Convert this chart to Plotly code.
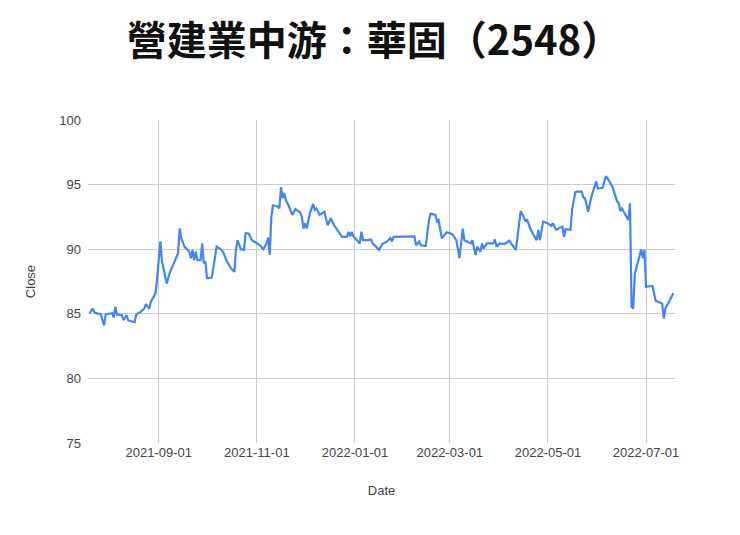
import plotly.graph_objects as go

dates = [
    "2021-07-20", "2021-07-22", "2021-07-23", "2021-07-27", "2021-07-29", "2021-07-30",
    "2021-08-03", "2021-08-04", "2021-08-05", "2021-08-06", "2021-08-09", "2021-08-10",
    "2021-08-12", "2021-08-13", "2021-08-17", "2021-08-18", "2021-08-20", "2021-08-23",
    "2021-08-24", "2021-08-26", "2021-08-27", "2021-08-30", "2021-08-31", "2021-09-02",
    "2021-09-03", "2021-09-06", "2021-09-08", "2021-09-09", "2021-09-13", "2021-09-14",
    "2021-09-15", "2021-09-17", "2021-09-20", "2021-09-21", "2021-09-22", "2021-09-23",
    "2021-09-24", "2021-09-25", "2021-09-27", "2021-09-28", "2021-09-29", "2021-09-30",
    "2021-10-01", "2021-10-04", "2021-10-07", "2021-10-09", "2021-10-11", "2021-10-13",
    "2021-10-16", "2021-10-18", "2021-10-19", "2021-10-20", "2021-10-22", "2021-10-24",
    "2021-10-25", "2021-10-27", "2021-10-29", "2021-11-01", "2021-11-03", "2021-11-05",
    "2021-11-07", "2021-11-08", "2021-11-09", "2021-11-10", "2021-11-11", "2021-11-14",
    "2021-11-15", "2021-11-16", "2021-11-17", "2021-11-18", "2021-11-19", "2021-11-21",
    "2021-11-23", "2021-11-25", "2021-11-28", "2021-11-29", "2021-11-30", "2021-12-01",
    "2021-12-02", "2021-12-04", "2021-12-06", "2021-12-07", "2021-12-08", "2021-12-10",
    "2021-12-12", "2021-12-13", "2021-12-15", "2021-12-17", "2021-12-19", "2021-12-22",
    "2021-12-24", "2021-12-27", "2021-12-28", "2021-12-29", "2021-12-30", "2021-12-31",
    "2022-01-02", "2022-01-04", "2022-01-05", "2022-01-06", "2022-01-09", "2022-01-11",
    "2022-01-12", "2022-01-14", "2022-01-16", "2022-01-18", "2022-01-21", "2022-01-23",
    "2022-01-24", "2022-01-25", "2022-01-28", "2022-02-01", "2022-02-07", "2022-02-08",
    "2022-02-10", "2022-02-11", "2022-02-14", "2022-02-16", "2022-02-17", "2022-02-20",
    "2022-02-21", "2022-02-22", "2022-02-24", "2022-02-27", "2022-03-01", "2022-03-03",
    "2022-03-05", "2022-03-07", "2022-03-08", "2022-03-09", "2022-03-10", "2022-03-12",
    "2022-03-14", "2022-03-15", "2022-03-17", "2022-03-18", "2022-03-20", "2022-03-21",
    "2022-03-22", "2022-03-24", "2022-03-28", "2022-03-29", "2022-03-30", "2022-04-01",
    "2022-04-04", "2022-04-07", "2022-04-09", "2022-04-11", "2022-04-12", "2022-04-14",
    "2022-04-16", "2022-04-17", "2022-04-18", "2022-04-20", "2022-04-22", "2022-04-24",
    "2022-04-25", "2022-04-26", "2022-04-28", "2022-05-01", "2022-05-03", "2022-05-04",
    "2022-05-06", "2022-05-08", "2022-05-10", "2022-05-11", "2022-05-12", "2022-05-15",
    "2022-05-16", "2022-05-18", "2022-05-19", "2022-05-22", "2022-05-23", "2022-05-24",
    "2022-05-26", "2022-05-28", "2022-05-29", "2022-05-31", "2022-06-01", "2022-06-04",
    "2022-06-06", "2022-06-07", "2022-06-10", "2022-06-13", "2022-06-14", "2022-06-15",
    "2022-06-16", "2022-06-19", "2022-06-20", "2022-06-21", "2022-06-22", "2022-06-23",
    "2022-06-24", "2022-06-27", "2022-06-28", "2022-06-29", "2022-06-30", "2022-07-01",
    "2022-07-05", "2022-07-07", "2022-07-10", "2022-07-11", "2022-07-12", "2022-07-13",
    "2022-07-16", "2022-07-18",
]

close = [
    85.05, 85.4, 85.1, 84.95, 84.1, 84.95,
    85.05, 84.7, 85.55, 84.95, 84.9, 84.5,
    84.9, 84.5, 84.35, 84.95, 85.1, 85.4,
    85.75, 85.4, 85.9, 86.6, 87.75, 90.6,
    89.05, 87.35, 88.25, 88.5, 89.7, 91.6,
    90.85, 90.2, 89.8, 89.3, 89.95, 89.15,
    89.8, 89.15, 89.15, 90.45, 88.9, 89.05,
    87.75, 87.8, 90.2, 90.05, 89.8, 89.15,
    88.5, 88.25, 89.95, 90.7, 90.0, 89.95,
    91.25, 91.2, 90.7, 90.45, 90.3, 90.0,
    90.45, 90.9, 89.55, 92.5, 93.4, 93.3,
    93.15, 94.8, 93.95, 94.35, 93.8, 93.3,
    92.65, 93.1, 92.85, 92.5, 91.6, 92.0,
    91.6, 92.8, 93.5, 93.05, 93.15, 92.65,
    92.8, 92.9, 91.85, 92.4, 91.85, 91.25,
    90.95, 90.95, 91.35, 91.0, 91.35, 91.0,
    90.75, 90.45, 91.35, 90.7, 90.7, 90.75,
    90.45, 90.2, 89.95, 90.4, 90.6, 90.85,
    90.6, 90.95, 90.95, 91.0, 91.0, 90.3,
    90.6, 90.3, 90.25, 92.25, 92.75, 92.65,
    92.15, 92.25, 90.85, 91.3, 91.25, 91.1,
    90.7, 89.3, 90.7, 91.6, 90.7, 90.6,
    90.45, 90.7, 89.55, 90.2, 89.8, 90.45,
    90.05, 90.45, 90.45, 90.75, 90.2, 90.45,
    90.4, 90.65, 90.3, 89.95, 90.85, 92.95,
    92.5, 92.15, 92.3, 91.6, 91.1, 90.7,
    91.5, 90.7, 92.15, 92.0, 91.8, 92.0,
    91.5, 91.6, 91.75, 90.95, 91.55, 91.5,
    93.05, 94.4, 94.45, 94.45, 94.0, 93.95,
    92.9, 94.05, 94.4, 95.25, 94.7, 94.75,
    95.65, 95.5, 94.85, 93.7, 93.55, 92.95,
    93.15, 92.5, 92.25, 93.55, 85.55, 85.4,
    88.1, 89.5, 90.0, 89.3, 89.95, 87.1,
    87.15, 86.0, 85.85, 85.8, 84.65, 85.4,
    86.1, 86.6,
]

title_text = "營建業中游：華固（2548）"
x_title = "Date"
y_title = "Close"
x_range = ["2021-07-19", "2022-07-19"]
y_range = [75, 100]

W, H = 732, 527

fig = go.Figure()
fig.add_trace(go.Scatter(
    x=dates, y=close, mode="lines",
    line=dict(color="#4285f4", width=2.2),
    hoverinfo="x+y", showlegend=False,
))

fig.update_layout(
    width=W, height=H,
    margin=dict(l=80, r=65, t=112, b=92),
    paper_bgcolor="white", plot_bgcolor="white",
    font=dict(family="Liberation Sans, Arial, sans-serif", size=13, color="#444444"),
    title=dict(
        text="<b>" + title_text + "</b>",
        x=0.5, xanchor="center", y=1 - 33 / H, yanchor="middle",
        font=dict(family="Noto Sans CJK TC", size=40, color="#111111"),
    ),
)
fig.update_xaxes(
    type="date", range=x_range,
    tick0="2021-09-01", dtick="M2", tickformat="%Y-%m-%d",
    showgrid=True, gridcolor="#cccccc", gridwidth=1,
    zeroline=False, showline=False, ticks="",
    title=dict(text=x_title, standoff=26, font=dict(size=13, color="#444444")),
)
fig.update_yaxes(
    range=y_range, dtick=5, tick0=75,
    showgrid=True, gridcolor="#cccccc", gridwidth=1,
    zeroline=False, showline=False, ticks="", ticklabelstandoff=6,
    title=dict(text=y_title, standoff=20, font=dict(size=13, color="#444444")),
)

fig.write_html("out.html")
